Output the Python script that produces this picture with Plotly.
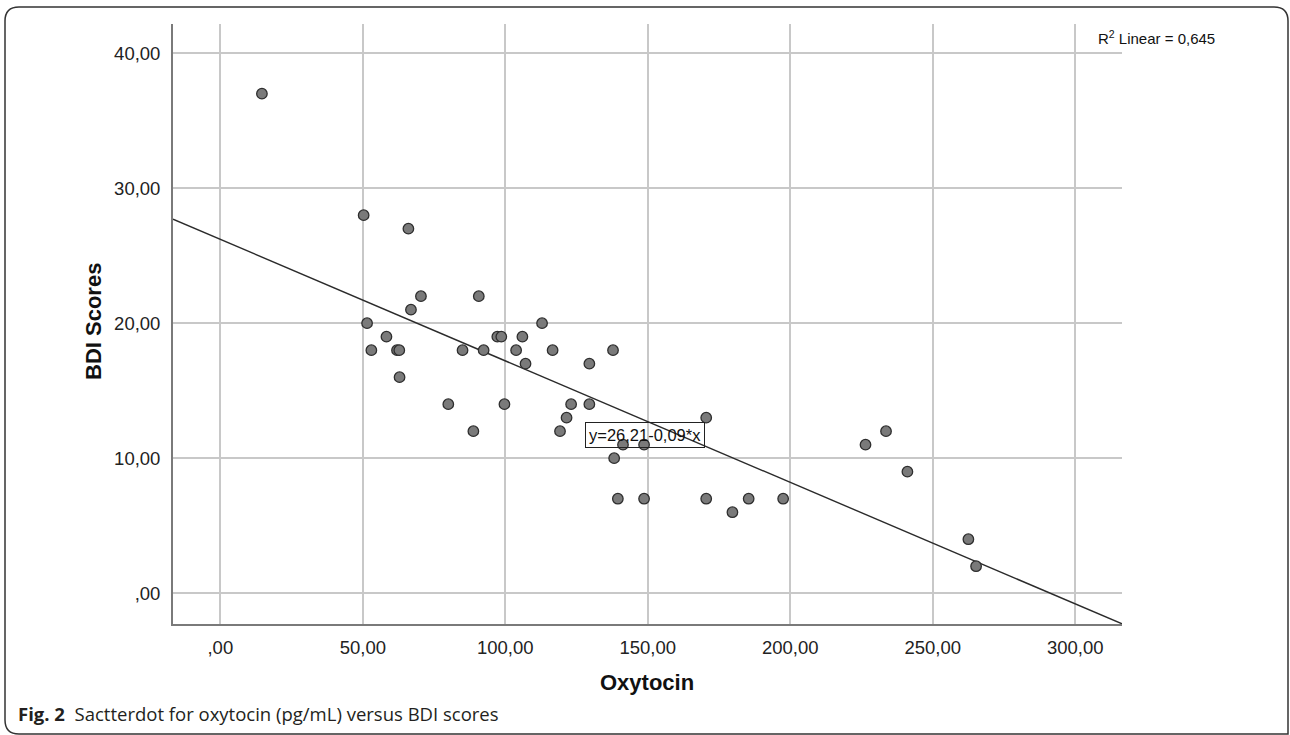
import plotly.graph_objects as go

# ---- data ----
oxytocin = [14.6, 50.3, 66.0, 70.4, 66.9, 90.7, 51.5, 112.9, 58.3, 97.2, 98.6, 106.0,
            53.0, 62.0, 62.8, 85.0, 92.4, 103.8, 116.6, 137.8, 107.1, 129.5, 62.9,
            80.0, 99.7, 123.1, 129.5, 121.5, 88.8, 119.2, 170.5, 141.3, 148.7, 138.2,
            139.5, 148.7, 170.5, 185.4, 197.5, 179.7, 226.4, 233.6, 241.1, 262.5, 265.2]
bdi = [37, 28, 27, 22, 21, 22, 20, 20, 19, 19, 19, 19, 18, 18, 18, 18, 18, 18, 18, 18,
       17, 17, 16, 14, 14, 14, 14, 13, 12, 12, 13, 11, 11, 10, 7, 7, 7, 7, 7, 6,
       11, 12, 9, 4, 2]

x_tickvals = [0, 50, 100, 150, 200, 250, 300]
x_ticktext = [",00", "50,00", "100,00", "150,00", "200,00", "250,00", "300,00"]
y_tickvals = [0, 10, 20, 30, 40]
y_ticktext = [",00", "10,00", "20,00", "30,00", "40,00"]

fit_intercept = 26.21
fit_slope = -0.09
r2_text = "R<sup>2</sup> Linear = 0,645"
eq_text = "y=26,21-0,09*x"

x_range = [-16.6, 316.4]
y_range = [-2.28, 42.16]

# ---- layout geometry (pixels) ----
W_PX, H_PX = 1290, 735
L, R, T, B = 173, 1122, 24, 624
PW, PH = R - L, B - T


def px2x(px):
    return (px - L) / PW


def py2y(py):
    return (B - py) / PH


FONT = "Arial, Liberation Sans, sans-serif"

fig = go.Figure()

fit_x = list(x_range)
fit_y = [fit_intercept + fit_slope * v for v in fit_x]
fig.add_trace(go.Scatter(x=fit_x, y=fit_y, mode="lines",
                         line=dict(color="#2b2b2b", width=1.4),
                         hoverinfo="skip", showlegend=False))

fig.add_trace(go.Scatter(x=oxytocin, y=bdi, mode="markers",
                         marker=dict(size=10.5, color="#7a7a7a",
                                     line=dict(color="#2e2e2e", width=1.3)),
                         showlegend=False))

axis_common = dict(showgrid=True, gridcolor="#c8c8c8", gridwidth=1.5,
                   zeroline=False, showline=True, linecolor="#7a7a7a", linewidth=1.8,
                   mirror=False, ticks="", tickfont=dict(family=FONT, size=18.5, color="#222222"))

fig.update_xaxes(range=x_range, tickmode="array", tickvals=x_tickvals, ticktext=x_ticktext,
                 ticklabelstandoff=6, **axis_common)
fig.update_yaxes(range=y_range, tickmode="array", tickvals=y_tickvals, ticktext=y_ticktext,
                 ticklabelstandoff=7, **axis_common)

# rounded outer frame
x0, x1, y0, y1, r = 5, 1288, 7, 734, 14
path = (f"M {px2x(x0)} {py2y(y0 + r)} Q {px2x(x0)} {py2y(y0)} {px2x(x0 + r)} {py2y(y0)} "
        f"L {px2x(x1 - r)} {py2y(y0)} Q {px2x(x1)} {py2y(y0)} {px2x(x1)} {py2y(y0 + r)} "
        f"L {px2x(x1)} {py2y(y1)} L {px2x(x0 + r)} {py2y(y1)} "
        f"Q {px2x(x0)} {py2y(y1)} {px2x(x0)} {py2y(y1 - r)} Z")
fig.add_shape(type="path", path=path, xref="paper", yref="paper",
              line=dict(color="#333333", width=1.5), layer="above")

annotations = [
    dict(text="<b>BDI Scores</b>", xref="paper", yref="paper", x=px2x(93), y=py2y(322),
         textangle=-90, showarrow=False, xanchor="center", yanchor="middle",
         font=dict(family=FONT, size=22, color="#111111")),
    dict(text="<b>Oxytocin</b>", xref="paper", yref="paper", x=px2x(647), y=py2y(682),
         showarrow=False, xanchor="center", yanchor="middle",
         font=dict(family=FONT, size=22, color="#111111")),
    dict(text=r2_text, xref="paper", yref="paper", x=px2x(1096), y=py2y(38),
         showarrow=False, xanchor="left", yanchor="middle",
         font=dict(family=FONT, size=15, color="#111111")),
    dict(text=eq_text, xref="x", yref="y", x=149.0, y=11.73,
         showarrow=False, xanchor="center", yanchor="middle",
         bordercolor="#222222", borderwidth=1, borderpad=3,
         font=dict(family=FONT, size=16.5, color="#111111")),
    dict(text="<b>Fig. 2</b>  Sactterdot for oxytocin (pg/mL) versus BDI scores",
         xref="paper", yref="paper", x=px2x(16), y=py2y(713),
         showarrow=False, xanchor="left", yanchor="middle",
         font=dict(family="Open Sans, Noto Sans, sans-serif", size=18.5, color="#231f20")),
]

fig.update_layout(width=W_PX, height=H_PX, autosize=False,
                  margin=dict(l=L, r=W_PX - R, t=T, b=H_PX - B),
                  paper_bgcolor="white", plot_bgcolor="white",
                  showlegend=False, annotations=annotations)

fig.write_html("out.html", config={"displayModeBar": False},
               post_script="document.body.style.margin='0';document.body.style.overflow='hidden';")
